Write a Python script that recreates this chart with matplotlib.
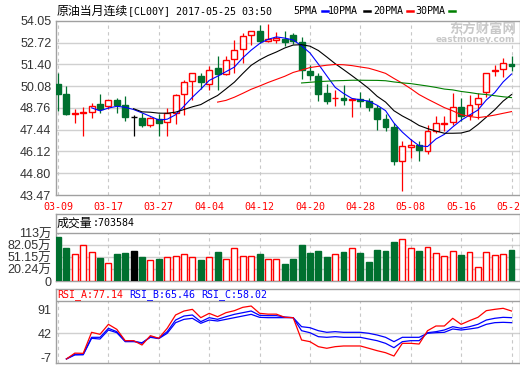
import numpy as np
import pandas as pd
import matplotlib
matplotlib.use("Agg")
import matplotlib.pyplot as plt
from matplotlib.lines import Line2D

plt.rcParams["font.family"] = ["Noto Sans CJK SC", "DejaVu Sans"]
plt.rcParams["axes.unicode_minus"] = False

# 日K数据 (03-09 .. 05-24)
opens = [50.21, 49.60, 48.40, 48.47, 48.49, 49.00, 48.85, 49.22, 48.91, 48.21,
         48.15, 47.70, 48.06, 47.92, 48.45, 49.62, 50.37, 50.67, 50.23, 51.18,
         50.84, 51.75, 52.35, 53.16, 53.40, 52.84, 52.88, 52.96, 53.20, 52.76,
         51.02, 50.67, 49.66, 49.33, 49.36, 49.25, 49.28, 49.16, 48.75, 48.09,
         47.60, 45.52, 46.37, 46.53, 46.16, 47.38, 47.81, 47.90, 48.79, 48.35,
         49.00, 49.72, 51.01, 51.12, 51.41]
highs = [50.88, 50.07, 48.71, 48.81, 49.04, 49.60, 49.26, 49.36, 49.46, 48.31,
         48.45, 48.21, 48.39, 48.75, 49.60, 50.47, 50.88, 50.88, 51.28, 51.89,
         51.89, 52.90, 53.30, 53.43, 53.81, 53.85, 53.36, 53.40, 53.30, 53.04,
         51.38, 50.88, 50.21, 49.86, 50.17, 49.36, 49.72, 49.36, 48.95, 48.39,
         47.84, 46.73, 46.89, 46.73, 47.70, 48.25, 48.25, 49.66, 49.36, 49.56,
         49.66, 50.90, 51.38, 51.79, 51.89]
lows = [48.59, 48.35, 47.84, 47.08, 48.15, 48.45, 48.69, 48.45, 47.98, 47.03,
        47.58, 47.58, 47.07, 47.07, 47.80, 48.35, 49.26, 49.93, 49.86, 49.86,
        50.73, 50.88, 51.48, 52.60, 52.70, 52.76, 52.70, 52.53, 52.64, 50.53,
        50.47, 49.20, 48.99, 48.89, 48.91, 48.23, 48.79, 48.59, 47.44, 47.34,
        45.27, 43.74, 45.72, 45.56, 45.96, 47.24, 47.38, 47.74, 47.94, 48.05,
        48.11, 49.44, 50.67, 50.61, 51.02]
closes = [49.60, 48.39, 48.42, 48.49, 48.89, 48.71, 49.22, 48.96, 48.19, 48.21,
          47.70, 48.15, 47.86, 48.43, 49.56, 50.31, 50.86, 50.31, 51.08, 50.84,
          51.69, 52.25, 53.12, 53.41, 52.84, 52.96, 53.00, 52.76, 52.84, 51.08,
          50.78, 49.62, 49.20, 49.35, 49.22, 49.27, 49.20, 48.79, 48.11, 47.58,
          45.52, 46.43, 46.53, 46.23, 47.34, 47.82, 47.83, 48.79, 48.25, 48.91,
          49.36, 50.88, 51.03, 51.48, 51.31]
# 成交量 (万)
volumes = [103.5, 75.2, 58.0, 82.1, 63.2, 49.4, 34.9, 58.9, 61.5, 66.6,
           51.2, 43.4, 46.0, 51.2, 53.8, 58.0, 51.2, 43.4, 51.2, 64.1,
           46.0, 74.4, 53.8, 53.8, 59.8, 46.0, 46.0, 33.1, 46.0, 82.1,
           61.5, 66.6, 51.2, 58.0, 64.1, 73.5, 61.5, 38.3, 69.2, 66.6,
           89.8, 97.5, 73.5, 66.6, 76.1, 60.6, 52.9, 65.8, 56.3, 63.2,
           25.4, 63.2, 55.5, 58.0, 70.36]
nan = np.nan
rsi_a = [nan, -11, 0.9, 0.5, 43.4, 39.3, 59.7, 49.5, 26.3, 26.3,
         17.5, 36.6, 31.2, 51.6, 78.8, 86.9, 90.3, 73.3, 82.1, 75.3,
         83.5, 87.6, 94.4, 97.1, 82.2, 80.5, 80.5, 74.0, 73.3, 27.7,
         24.3, 14.1, 10.8, 14.1, 15.5, 15.5, 15.5, 10.8, 5.9, 1.8,
         -5.0, 20.9, 20.9, 19.5, 46.7, 56.3, 56.3, 72.0, 59.7, 67.2,
         74.0, 87.6, 90.3, 92.4, 86.9]
rsi_b = [nan, -11, -1.5, -1.5, 33.2, 33.2, 51.6, 44.7, 25.7, 25.7,
         20.9, 34.5, 31.2, 44.7, 68.5, 76.7, 78.8, 65.1, 73.3, 69.9,
         75.3, 80.1, 83.5, 86.9, 78.1, 77.4, 77.4, 74.7, 73.3, 46.7,
         42.6, 34.5, 33.2, 34.5, 33.2, 33.2, 33.2, 29.7, 26.3, 20.9,
         12.0, 24.3, 26.3, 26.3, 42.6, 44.7, 48.1, 54.9, 51.6, 54.9,
         59.7, 68.5, 72.0, 74.0, 73.3]
rsi_c = [nan, -11, -2.9, -2.5, 31.2, 29.7, 48.1, 42.6, 24.3, 24.3,
         22.2, 33.2, 30.5, 41.4, 63.1, 69.9, 72.0, 61.8, 68.5, 66.5,
         69.9, 73.3, 76.7, 80.1, 74.0, 73.3, 73.3, 73.3, 73.3, 54.9,
         52.8, 46.7, 43.4, 44.7, 43.4, 43.4, 43.4, 41.4, 37.9, 33.2,
         24.3, 33.2, 33.2, 33.2, 41.4, 42.6, 43.4, 50.2, 48.1, 50.2,
         52.8, 59.7, 63.1, 63.8, 63.1]

date_pos = [0, 6, 12, 18, 24, 30, 36, 42, 48, 54]
date_labels = ["03-09", "03-17", "03-27", "04-04", "04-12",
               "04-20", "04-28", "05-08", "05-16", "05-24"]
price_ticks = [43.47, 44.80, 46.12, 47.44, 48.76, 50.08, 51.40, 52.72, 54.05]
vol_ticks = [113, 82.05, 51.15, 20.24]
rsi_ticks = [91, 42, -7]
ma_periods = [5, 10, 20, 30]
ma_colors = ["#0000ff", "#000000", "#ff0000", "#008000"]

RED = "#ff0000"
GREEN = "#00702f"
FRAME = "#a0a0a0"
GRID = "#d0d0d0"
TXT = "#333333"
NUM_FONT = ["Liberation Sans", "Noto Sans CJK SC", "DejaVu Sans"]
MONO = ["DejaVu Sans Mono"]
CJK_SIZE = 8.6   # 约 12px 宋体
MONO_SIZE = 7.2  # 约 6px 每字符

W, H = 520, 365


def box(x0, y0, x1, y1):
    return [x0 / W, 1 - y1 / H, (x1 - x0) / W, (y1 - y0) / H]


def style(ax):
    for s in ax.spines.values():
        s.set_color(FRAME)
        s.set_linewidth(1)
    ax.tick_params(length=0, colors=TXT, labelsize=9, pad=3)
    ax.set_xlim(-0.3, 54.95)
    for t in ax.get_yticklabels():
        t.set_family(NUM_FONT)


def put(px, py, s, mono=False, color="#000000"):
    fig.text(px / W, 1 - py / H, s, va="center", ha="left", color=color,
             fontsize=MONO_SIZE if mono else CJK_SIZE,
             family=MONO if mono else None)


x = np.arange(len(closes))
o = np.array(opens)
c = np.array(closes)
up = c > o
flat = c == o
colors = np.where(up, RED, np.where(flat, "#000000", GREEN))
faces = np.where(up, "white", colors)

fig = plt.figure(figsize=(W / 100, H / 100), dpi=100)

# ---- K线主图 ----
ax = fig.add_axes(box(55.5, 20.7, 519.5, 195))
ax.set_ylim(price_ticks[0], price_ticks[-1])
ax.set_yticks(price_ticks, [f"{v:.2f}" for v in price_ticks])
for v in price_ticks[1:-1]:
    ax.axhline(v, color=GRID, lw=1, zorder=0)
for p in date_pos:
    ax.axvline(p, color="#c8c8c8", lw=0.8, ls=(0, (3, 3)), zorder=0)
ax.vlines(x, lows, highs, colors=colors, lw=0.9, zorder=2)
ax.bar(x, c - o, bottom=o, width=0.7, color=faces, edgecolor=colors,
       linewidth=1, zorder=3)
close_s = pd.Series(closes)
for n, col in zip(ma_periods, ma_colors):
    ax.plot(x, close_s.rolling(n).mean(), color=col, lw=0.8, zorder=4)
ax.set_xticks(date_pos, date_labels)
style(ax)
ax.tick_params(axis="x", colors=RED, labelsize=MONO_SIZE, pad=5)
for t in ax.get_xticklabels():
    t.set_family(MONO)

# ---- 成交量 ----
vfloor = vol_ticks[-1] - (vol_ticks[-2] - vol_ticks[-1])
vstep = (vol_ticks[0] - vfloor) / (281 - 233)
axv = fig.add_axes(box(55.5, 214, 519.5, 281))
axv.set_ylim(vfloor, vol_ticks[0] + vstep * (233 - 214))
for v in vol_ticks[1:]:
    axv.axhline(v, color=GRID, lw=1, zorder=0)
axv.axhline(vol_ticks[0], color=FRAME, lw=1, zorder=1)
axv.vlines(date_pos, vfloor, vol_ticks[0], colors="#c8c8c8", lw=0.8,
           linestyles=(0, (3, 3)), zorder=0)
vol = np.array(volumes)
axv.bar(x, vol - vfloor, bottom=vfloor, width=0.7, color=faces,
        edgecolor=colors, linewidth=1, zorder=3)
axv.set_yticks(vol_ticks + [vfloor], [f"{v:g}万" for v in vol_ticks] + ["0"])
axv.set_xticks([])
style(axv)
put(57, 223, "成交量")
put(93, 223, ":703584", mono=True)

# ---- RSI ----
rstep = (rsi_ticks[0] - rsi_ticks[-1]) / (357 - 309)
axr = fig.add_axes(box(55.5, 288.5, 519.5, 363))
rtop = rsi_ticks[0] + rstep * (309 - 288.5)
rsep = rsi_ticks[0] + rstep * (309 - 301)
axr.set_ylim(rsi_ticks[-1] - rstep * (363 - 357), rtop)
axr.axhline(rsep, color=FRAME, lw=1, zorder=1)
axr.axhline(rsi_ticks[1], color=GRID, lw=1, zorder=0)
axr.vlines(date_pos, axr.get_ylim()[0], rsep, colors="#c8c8c8", lw=0.8,
           linestyles=(0, (3, 3)), zorder=0)
axr.plot(x, rsi_c, color="#0000ff", lw=0.9)
axr.plot(x, rsi_b, color="#0000ff", lw=0.9)
axr.plot(x, rsi_a, color=RED, lw=0.9)
axr.set_yticks(rsi_ticks, [str(v) for v in rsi_ticks])
axr.set_xticks([])
style(axr)
put(57, 294.5, "RSI_A:77.14", mono=True, color=RED)
put(129, 294.5, "RSI_B:65.46", mono=True, color="#0000ff")
put(201, 294.5, "RSI_C:58.02", mono=True, color="#0000ff")

# ---- 标题与均线图例 ----
put(57, 11, "原油当月连续")
put(128, 11, "[CL00Y] 2017-05-25 03:50", mono=True)
for lbl, px, lx, col in [("5PMA", 293, 322, ma_colors[0]),
                         ("10PMA", 328, 364, ma_colors[1]),
                         ("20PMA", 373, 407, ma_colors[2]),
                         ("30PMA", 415, 449, ma_colors[3])]:
    put(px, 11, lbl, mono=True)
    fig.add_artist(Line2D([lx / W, (lx + 6) / W], [1 - 11 / H, 1 - 11 / H],
                          color=col, lw=1.8, transform=fig.transFigure))

# 水印
fig.text(483 / W, 1 - 29 / H, "东方财富网", fontsize=9.6, fontweight="bold",
         color="#c8c8c8", ha="center", va="center")
fig.text(475 / W, 1 - 40 / H, "eastmoney.com", fontsize=6.5, fontweight="bold",
         color="#c8c8c8", ha="center", va="center", family=["DejaVu Sans"])

fig.savefig("out.png", dpi=100)
